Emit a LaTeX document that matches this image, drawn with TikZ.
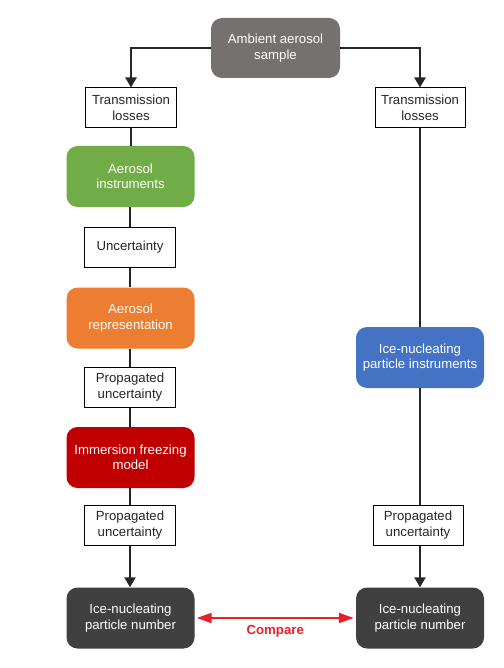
\documentclass[tikz,border=0pt]{standalone}
\usepackage{fontspec}
\setmainfont{Liberation Sans}
\usetikzlibrary{arrows.meta}
\definecolor{ambgray}{HTML}{767171}
\definecolor{cgreen}{HTML}{70AD47}
\definecolor{corange}{HTML}{ED7D31}
\definecolor{cred}{HTML}{C00000}
\definecolor{cblue}{HTML}{4472C4}
\definecolor{cdark}{HTML}{404040}
\definecolor{ccomp}{HTML}{E8202A}
\tikzset{
  every node/.style={font=\fontsize{13.2}{15.5}\selectfont, align=center, inner sep=0pt},
  colbox/.style={rounded corners=11pt, minimum width=128pt, minimum height=61pt, text=white},
  whitebox/.style={draw=black, line width=1pt, fill=white, minimum width=91pt, minimum height=40pt, text=black!85},
  conn/.style={line width=2.2pt, draw=black!85},
  arr/.style={conn, -{Triangle[width=11pt,length=10pt]}},
}
\begin{document}
\begin{tikzpicture}[x=1pt,y=-1pt]
\useasboundingbox (0,0) rectangle (503,668);
% nodes
\node[colbox, fill=ambgray, minimum width=129pt, minimum height=60pt] (amb) at (275.5,48) {Ambient aerosol\\sample};
\node[whitebox] (tl1) at (131,108) {Transmission\\losses};
\node[whitebox, minimum width=90pt] (tl2) at (420,108) {Transmission\\losses};
\node[colbox, fill=cgreen] (ai) at (130.5,176.5) {Aerosol\\instruments};
\node[whitebox] (unc) at (130,247.5) {Uncertainty};
\node[colbox, fill=corange] (ar) at (130.5,318) {Aerosol\\representation};
\node[whitebox] (pu1) at (130,387) {Propagated\\uncertainty};
\node[colbox, fill=cred] (ifm) at (130.5,457.5) {Immersion freezing\\model};
\node[whitebox] (pu2) at (130,525) {Propagated\\uncertainty};
\node[colbox, fill=cdark] (inp1) at (130.5,618) {Ice-nucleating\\particle number};
\node[colbox, fill=cblue] (inpi) at (420,357.5) {Ice-nucleating\\particle instruments};
\node[whitebox, minimum width=90pt] (pu3) at (418,525) {Propagated\\uncertainty};
\node[colbox, fill=cdark] (inp2) at (420,618) {Ice-nucleating\\particle number};
% connectors
\draw[arr] (amb.west) -| (tl1.north);
\draw[arr] (amb.east) -| (tl2.north);
\draw[conn] (tl1.south) -- (tl1.south |- ai.north);
\draw[conn] (ai.south -| unc.north) -- (unc.north);
\draw[conn] (unc.south) -- (unc.south |- ar.north);
\draw[conn] (ar.south -| pu1.north) -- (pu1.north);
\draw[conn] (pu1.south) -- (pu1.south |- ifm.north);
\draw[conn] (ifm.south -| pu2.north) -- (pu2.north);
\draw[arr] (pu2.south) -- (pu2.south |- inp1.north);
\draw[conn] (tl2.south) -- (tl2.south |- inpi.north);
\draw[conn] (inpi.south) -- (inpi.south |- pu3.north);
\draw[arr] (pu3.south -| inp2.north) -- (inp2.north);
\draw[line width=2.2pt, draw=ccomp, {Triangle[width=10pt,length=15pt]}-{Triangle[width=10pt,length=15pt]}] ([xshift=2pt]inp1.east) -- node[below=6pt, text=ccomp, font=\fontsize{13.2}{15.5}\selectfont\bfseries] (cmp) {Compare} ([xshift=-2pt]inp2.west);
\end{tikzpicture}
\end{document}
